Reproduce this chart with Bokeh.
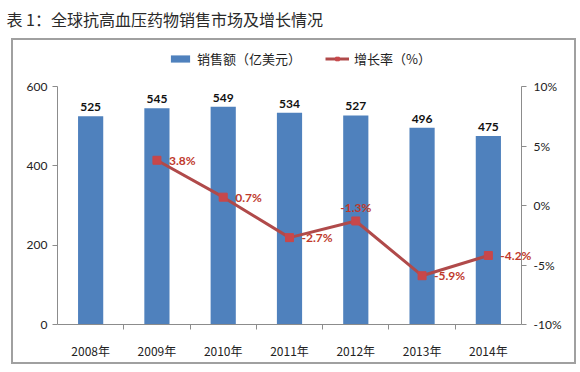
from bokeh.plotting import figure
from bokeh.layouts import column
from bokeh.models import (Range1d, LinearAxis, FixedTicker, PrintfTickFormatter,
                          ColumnDataSource, Legend, LegendItem, Label)
from bokeh.core.properties import value
from bokeh.embed import file_html
from bokeh.resources import INLINE

title = "表 1：全球抗高血压药物销售市场及增长情况"
years = ["2008年", "2009年", "2010年", "2011年", "2012年", "2013年", "2014年"]
sales = [525, 545, 549, 534, 527, 496, 475]
growth_years = ["2009年", "2010年", "2011年", "2012年", "2013年", "2014年"]
growth = [3.8, 0.7, -2.7, -1.3, -5.9, -4.2]
left_ticks = [0, 200, 400, 600]
right_ticks = [-10, -5, 0, 5, 10]
sales_name = "销售额（亿美元）"
growth_name = "增长率（%）"

BLUE = "#4F81BD"
LINE_RED = "#B04A4A"
MARK_RED = "#C8474A"
LABEL_RED = "#C0392B"
AXIS = "#8C8C8C"
BOX = "#A0A0A0"
NUM_FONT = "Lato"
CJK_FONT = "Noto Sans CJK SC"

# ---- title strip ----
TW, TH = 576, 38
t = figure(width=TW, height=TH, output_backend="svg", toolbar_location=None,
           x_range=Range1d(0, 1), y_range=Range1d(0, 1), min_border=0)
t.axis.visible = False
t.grid.visible = False
t.outline_line_color = None
t.add_layout(Label(x=6, y=TH - 18, x_units="screen", y_units="screen", text=title,
                   text_font=CJK_FONT, text_font_size="16px", text_baseline="middle",
                   text_color="#2A2A2A"))

# ---- main chart: the frame is the whole boxed area; axes sit at fixed locations ----
n = len(years)
W, H = 565, 326
PL, PR, PT, PB = 46, 510, 48, 286   # plot area inside the box (px)
xs_per_px = n / (PR - PL)
x0 = -PL * xs_per_px
x1 = n + (W - PR) * xs_per_px
ys_per_px = left_ticks[-1] / (PB - PT)
y0 = -(H - PB) * ys_per_px
y1 = left_ticks[-1] + PT * ys_per_px
gs_per_px = (right_ticks[-1] - right_ticks[0]) / (PB - PT)
g0 = right_ticks[0] - (H - PB) * gs_per_px
g1 = right_ticks[-1] + PT * gs_per_px

p = figure(width=W, height=H, output_backend="svg", toolbar_location=None,
           x_range=Range1d(x0, x1), y_range=Range1d(y0, y1), min_border=0)
p.margin = (0, 0, 0, 11)
p.outline_line_color = BOX
p.outline_line_width = 3
p.xgrid.visible = False
p.ygrid.visible = False
p.extra_y_ranges = {"g": Range1d(g0, g1)}

xs = [i + 0.5 for i in range(n)]
xmap = {y: x for y, x in zip(years, xs)}
gx = [xmap[y] for y in growth_years]

bsrc = ColumnDataSource(dict(x=xs, top=sales, lab=[str(v) for v in sales]))
bars = p.vbar(x="x", top="top", bottom=0, width=0.38, source=bsrc, fill_color=BLUE, line_color=None)
p.text(x="x", y="top", text="lab", source=bsrc, y_offset=-5, text_align="center",
       text_baseline="bottom", text_font=value(NUM_FONT), text_font_style="bold",
       text_font_size="12px", text_color="#111111")

gsrc = ColumnDataSource(dict(x=gx, y=growth))
line = p.line(x="x", y="y", source=gsrc, y_range_name="g", line_color=LINE_RED, line_width=3)
marks = p.scatter(x="x", y="y", source=gsrc, y_range_name="g", marker="square", size=8,
                  fill_color=MARK_RED, line_color=MARK_RED)

def is_peak(i):
    return 0 < i < len(growth) - 1 and growth[i] > growth[i - 1] and growth[i] > growth[i + 1]
right_i = [i for i in range(len(growth)) if not is_peak(i)]
above_i = [i for i in range(len(growth)) if is_peak(i)]
rs = ColumnDataSource(dict(x=[gx[i] for i in right_i], y=[growth[i] for i in right_i],
                           t=[f"{growth[i]}%" for i in right_i]))
ab = ColumnDataSource(dict(x=[gx[i] for i in above_i], y=[growth[i] for i in above_i],
                           t=[f"{growth[i]}%" for i in above_i]))
for src, kw in ((rs, dict(x_offset=12, text_align="left", text_baseline="middle")),
                (ab, dict(y_offset=-6, text_align="center", text_baseline="bottom"))):
    p.text(x="x", y="y", text="t", source=src, y_range_name="g", text_font=value(NUM_FONT),
           text_font_style="bold", text_font_size="12px", text_color=LABEL_RED, **kw)

# axes (fixed locations inside the frame)
la = p.yaxis[0]
la.ticker = FixedTicker(ticks=left_ticks)
la.bounds = (left_ticks[0], left_ticks[-1])
la.fixed_location = 0
ra = LinearAxis(y_range_name="g", ticker=FixedTicker(ticks=right_ticks),
                formatter=PrintfTickFormatter(format="%d%%"),
                bounds=(right_ticks[0], right_ticks[-1]), fixed_location=n)
p.add_layout(ra, "right")
for ax in (la, ra):
    ax.axis_line_color = AXIS
    ax.major_tick_line_color = AXIS
    ax.major_tick_out = 5
    ax.major_tick_in = 0
    ax.minor_tick_line_color = None
    ax.major_label_text_font = NUM_FONT
    ax.major_label_text_font_size = "12px"
    ax.major_label_text_color = "#222222"
la.major_label_standoff = 5
ra.major_label_standoff = 7

xa = p.xaxis[0]
xa.fixed_location = 0
xa.ticker = FixedTicker(ticks=xs, minor_ticks=list(range(1, n)))
xa.major_label_overrides = {x: y for x, y in zip(xs, years)}
xa.bounds = (0, n)
xa.axis_line_color = AXIS
xa.major_tick_line_color = None
xa.major_tick_out = 0
xa.minor_tick_line_color = AXIS
xa.minor_tick_out = 5
xa.minor_tick_in = 0
xa.major_label_standoff = 12
xa.major_label_text_font = CJK_FONT
xa.major_label_text_font_size = "12px"
xa.major_label_text_color = "#222222"

legend = Legend(items=[LegendItem(label=sales_name, renderers=[bars]),
                       LegendItem(label=growth_name, renderers=[line, marks])],
                orientation="horizontal", location=(157, 296),
                background_fill_alpha=0, border_line_color=None,
                glyph_width=24, glyph_height=9, label_height=14, spacing=24,
                label_text_font=CJK_FONT, label_text_font_size="13px",
                label_text_color="#222222", padding=0, margin=0)
p.add_layout(legend, "center")

layout = column(t, p, spacing=0)
open("out.html", "w").write(file_html(layout, INLINE))
